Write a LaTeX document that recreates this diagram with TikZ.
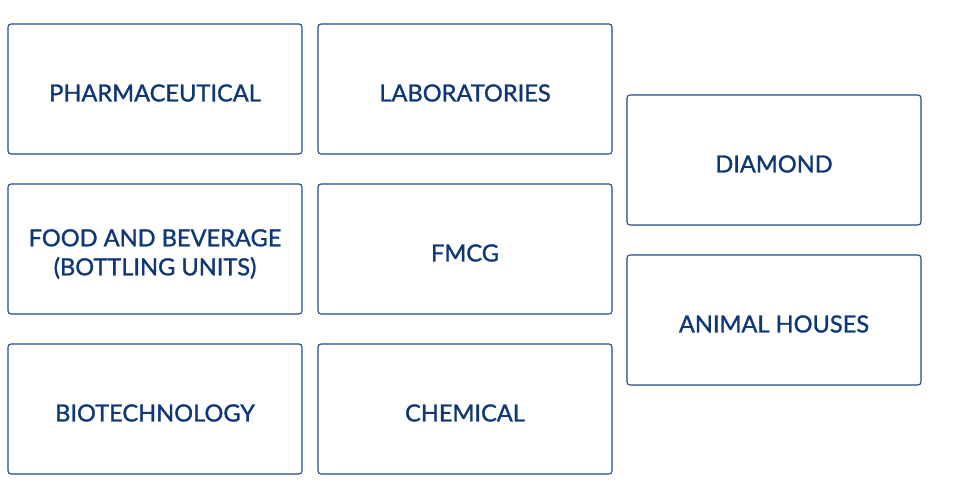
\documentclass[tikz,border=0pt]{standalone}
\usepackage{fontspec}
\setmainfont{Lato}[FakeBold=1.2]
\definecolor{bx}{HTML}{1F4A8A}
\definecolor{tx}{HTML}{0E3775}
\begin{document}
\begin{tikzpicture}[x=1pt,y=1pt,
  card/.style={draw=bx,line width=1.1pt,rounded corners=3pt,minimum width=294pt,minimum height=130pt},
  lbl/.style={align=center,text=tx,font=\fontsize{23.6}{29}\selectfont,inner sep=0pt}]
\useasboundingbox (0,0) rectangle (975,500);
\node[card] (ph) at (155,411) {};
\node[card] (la) at (465,411) {};
\node[card] (fb) at (155,251) {};
\node[card] (fm) at (465,251) {};
\node[card] (bi) at (155,91) {};
\node[card] (ch) at (465,91) {};
\node[card] (di) at (774,340) {};
\node[card] (an) at (774,180) {};
\node[lbl] at ([yshift=-4pt]ph.center) {PHARMACEUTICAL};
\node[lbl] at ([yshift=-4pt]la.center) {LABORATORIES};
\node[lbl] at ([yshift=-5pt]fb.center) {FOOD AND BEVERAGE\\(BOTTLING UNITS)};
\node[lbl] at ([yshift=-4pt]fm.center) {FMCG};
\node[lbl] at ([yshift=-4pt]bi.center) {BIOTECHNOLOGY};
\node[lbl] at ([yshift=-4pt]ch.center) {CHEMICAL};
\node[lbl] at ([yshift=-4pt]di.center) {DIAMOND};
\node[lbl] at ([yshift=-4pt]an.center) {ANIMAL HOUSES};
\end{tikzpicture}
\end{document}
